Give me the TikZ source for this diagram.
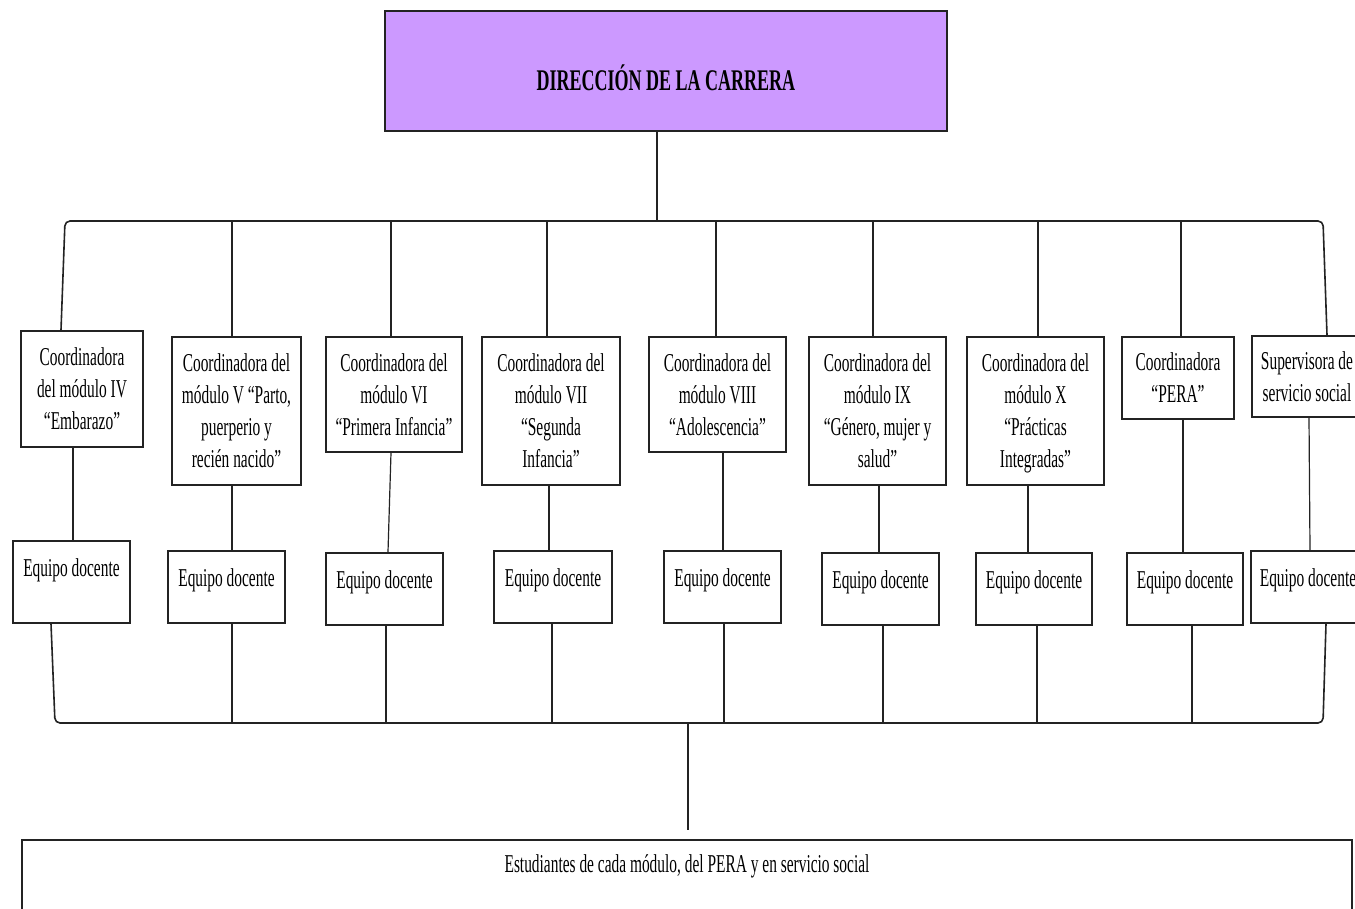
\documentclass[tikz,border=0pt]{standalone}
\usepackage{fontspec}
\setmainfont{Liberation Serif}[FakeStretch=0.6]
\definecolor{lav}{RGB}{204,153,255}
\definecolor{ink}{RGB}{35,35,35}
\begin{document}
\begin{tikzpicture}[x=1pt,y=-1pt,
  cbox/.style={draw=ink,line width=1.6pt,inner sep=0pt,align=center,anchor=north,
    text depth=0pt,font=\fontsize{25.7}{32}\selectfont},
  ebox/.style={draw=ink,line width=1.6pt,inner xsep=0pt,inner ysep=0pt,anchor=north,
    text height=36pt,font=\fontsize{25.7}{32}\selectfont},
  conn/.style={draw=ink,line width=1.2pt},
  bus/.style={draw=ink,line width=1.6pt,rounded corners=5pt}]
\useasboundingbox (0,0) rectangle (1355,908);
\fill[white] (0,0) rectangle (1355,908);

% top box
\node[draw=ink,line width=1.6pt,fill=lav,inner sep=0pt,anchor=north,
  minimum width=562pt,text height=80pt,text depth=40pt,
  font=\fontsize{30}{34}\selectfont\bfseries] (dir) at (666,10) {DIRECCIÓN DE LA CARRERA};

% coordinator boxes
\node[cbox,minimum width=122pt,minimum height=116pt] (c1) at (82,330) {Coordinadora\\del módulo IV\\“Embarazo”};
\node[cbox,minimum width=129pt,minimum height=148pt] (c2) at (236.5,336) {Coordinadora del\\módulo V “Parto,\\puerperio y\\recién nacido”};
\node[cbox,minimum width=136pt,minimum height=115pt] (c3) at (394,336) {Coordinadora del\\módulo VI\\“Primera Infancia”};
\node[cbox,minimum width=138pt,minimum height=148pt] (c4) at (551,336) {Coordinadora del\\módulo VII\\“Segunda\\Infancia”};
\node[cbox,minimum width=137pt,minimum height=115pt] (c5) at (717.5,336) {Coordinadora del\\módulo VIII\\“Adolescencia”};
\node[cbox,minimum width=137pt,minimum height=148pt] (c6) at (877.5,336) {Coordinadora del\\módulo IX\\“Género, mujer y\\salud”};
\node[cbox,minimum width=137pt,minimum height=148pt] (c7) at (1035.5,336) {Coordinadora del\\módulo X\\“Prácticas\\Integradas”};
\node[cbox,minimum width=112pt,minimum height=82pt] (c8) at (1178,336) {Coordinadora\\“PERA”};
\node[cbox,minimum width=110pt,minimum height=81pt] (c9) at (1307,335) {Supervisora de\\servicio social};

% teaching team boxes
\node[ebox,minimum width=117pt,text depth=46pt] (e1) at (71.5,540) {Equipo docente};
\node[ebox,minimum width=117pt,text depth=36pt] (e2) at (226.5,550) {Equipo docente};
\node[ebox,minimum width=117pt,text depth=36pt] (e3) at (384.5,552) {Equipo docente};
\node[ebox,minimum width=118pt,text depth=36pt] (e4) at (553,550) {Equipo docente};
\node[ebox,minimum width=117pt,text depth=36pt] (e5) at (722.5,550) {Equipo docente};
\node[ebox,minimum width=117pt,text depth=36pt] (e6) at (880.5,552) {Equipo docente};
\node[ebox,minimum width=116pt,text depth=36pt] (e7) at (1034,552) {Equipo docente};
\node[ebox,minimum width=116pt,text depth=36pt] (e8) at (1185,552) {Equipo docente};
\node[ebox,minimum width=114pt,text depth=36pt] (e9) at (1308,550) {Equipo docente};

% students box
\node[draw=ink,line width=1.6pt,inner sep=0pt,anchor=north,minimum width=1330pt,
  text height=33pt,text depth=70pt,font=\fontsize{25.7}{32}\selectfont] (stud) at (687,839)
  {Estudiantes de cada módulo, del PERA y en servicio social};

% top bus
\coordinate (bus) at (657,221);
\coordinate (busL) at (65,221);
\coordinate (busR) at (1323,221);
\draw[conn] ([xshift=-9pt]dir.south) -- (bus);
\draw[bus] ([xshift=-21pt]c1.north) -- (busL) -- (busR) -- ([xshift=20pt]c9.north);
\foreach \k/\x in {2/232,3/391,4/547,5/716,6/873,7/1038,8/1181}{
  \coordinate (t\k) at (\x,221);
  \draw[conn] (t\k) -- (t\k |- c\k.north);
}

% coordinator to team
\draw[conn] ([xshift=-9pt]c1.south) -- ([xshift=1.5pt]e1.north);
\draw[conn] ([xshift=-4.5pt]c2.south) -- ([xshift=5.5pt]e2.north);
\draw[conn] ([xshift=-3pt]c3.south) -- ([xshift=3.5pt]e3.north);
\draw[conn] ([xshift=-2pt]c4.south) -- ([xshift=-4pt]e4.north);
\draw[conn] ([xshift=5.5pt]c5.south) -- ([xshift=0.5pt]e5.north);
\draw[conn] ([xshift=1.5pt]c6.south) -- ([xshift=-1.5pt]e6.north);
\draw[conn] ([xshift=-7.5pt]c7.south) -- ([xshift=-6pt]e7.north);
\draw[conn] ([xshift=5pt]c8.south) -- ([xshift=-2pt]e8.north);
\draw[conn] ([xshift=2pt]c9.south) -- ([xshift=2pt]e9.north);

% bottom bus
\coordinate (bbL) at (55,723);
\coordinate (bbR) at (1323,723);
\coordinate (bb) at (688,723);
\coordinate (be) at (688,830);
\draw[bus] ([xshift=-20.5pt]e1.south) -- (bbL) -- (bbR) -- ([xshift=18pt]e9.south);
\foreach \k/\x in {2/232,3/386,4/552,5/724,6/883,7/1037,8/1192}{
  \coordinate (u\k) at (\x,723);
  \draw[conn] (u\k |- e\k.south) -- (u\k);
}
\draw[conn] (bb) -- (be);
\end{tikzpicture}
\end{document}
